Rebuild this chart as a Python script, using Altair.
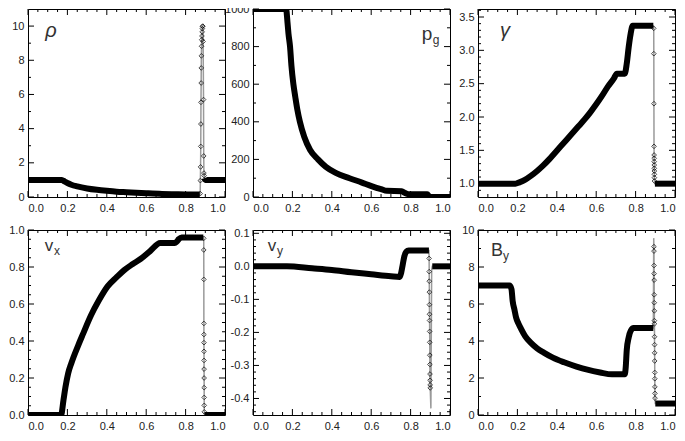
import altair as alt
import pandas as pd

# ---------------- values ----------------
XMAJ = [0.0, 0.2, 0.4, 0.6, 0.8, 1.0]
XMIN = [0.05, 0.1, 0.15, 0.25, 0.3, 0.35, 0.45, 0.5, 0.55, 0.65, 0.7, 0.75, 0.85, 0.9, 0.95]

# rho
RHO_LX = [0.0, 0.17, 0.18, 0.19, 0.2, 0.22, 0.25, 0.3, 0.35, 0.4, 0.45, 0.5, 0.6, 0.68, 0.75, 0.8, 0.872]
RHO_LY = [1.0, 1.0, 0.95, 0.88, 0.82, 0.72, 0.62, 0.5, 0.42, 0.36, 0.31, 0.28, 0.22, 0.18, 0.16, 0.15, 0.15]
RHO_SX = [0.874, 0.875, 0.876, 0.877, 0.8775, 0.878, 0.879, 0.8795, 0.88, 0.881, 0.882, 0.883, 0.884, 0.885, 0.886, 0.887, 0.889, 0.891, 0.892, 0.893, 0.894]
RHO_SY = [0.2, 0.96, 1.76, 2.96, 4.27, 5.54, 6.67, 7.55, 8.26, 8.82, 9.2, 9.42, 9.66, 9.85, 9.98, 10.0, 9.1, 5.7, 2.4, 1.4, 1.25]
RHO_RX = [0.896, 0.9, 1.0]
RHO_RY = [1.1, 1.0, 1.0]

# gas pressure
PG_LX = [0.0, 0.168, 0.175, 0.18, 0.188, 0.195, 0.205, 0.215, 0.225, 0.238, 0.26, 0.29, 0.33, 0.37, 0.42, 0.49, 0.55, 0.605, 0.65, 0.68, 0.755, 0.77, 0.79, 0.885, 0.89, 0.897, 1.0]
PG_LY = [1000, 1000, 930, 870, 800, 700, 600, 530, 465, 400, 320, 250, 200, 160, 128, 100, 78, 57, 42, 33, 31, 22, 15, 15, 8, 0.5, 0.1]

# Lorentz factor
GA_LX = [0.0, 0.19, 0.21, 0.24, 0.27, 0.3, 0.33, 0.36, 0.39, 0.42, 0.45, 0.48, 0.51, 0.54, 0.57, 0.6, 0.63, 0.66, 0.69, 0.705, 0.745, 0.755, 0.765, 0.775, 0.785, 0.89]
GA_LY = [1.0, 1.0, 1.02, 1.06, 1.12, 1.19, 1.27, 1.36, 1.46, 1.56, 1.66, 1.76, 1.86, 1.96, 2.07, 2.19, 2.32, 2.46, 2.58, 2.65, 2.65, 2.8, 3.05, 3.25, 3.37, 3.37]
GA_SX = [0.892, 0.8925, 0.893, 0.8935, 0.894, 0.8942, 0.8944, 0.8946, 0.8948, 0.895, 0.8952, 0.8954, 0.8956]
GA_SY = [3.33, 2.95, 2.2, 1.56, 1.43, 1.38, 1.33, 1.28, 1.23, 1.19, 1.14, 1.09, 1.04]
GA_RX = [0.898, 1.0]
GA_RY = [1.0, 1.0]

# v_x
VX_LX = [0.0, 0.168, 0.18, 0.19, 0.204, 0.22, 0.254, 0.28, 0.32, 0.36, 0.404, 0.45, 0.487, 0.53, 0.571, 0.62, 0.671, 0.745, 0.755, 0.765, 0.78, 0.89]
VX_LY = [0.0, 0.0, 0.08, 0.15, 0.226, 0.28, 0.374, 0.44, 0.539, 0.62, 0.695, 0.745, 0.782, 0.815, 0.843, 0.886, 0.93, 0.93, 0.937, 0.95, 0.96, 0.96]
VX_SX = [0.892, 0.8922, 0.8925, 0.8928, 0.893, 0.8932, 0.8934, 0.8936, 0.8938, 0.894, 0.8942, 0.8944, 0.8946, 0.8948]
VX_SY = [0.955, 0.892, 0.733, 0.495, 0.435, 0.391, 0.344, 0.295, 0.248, 0.2, 0.148, 0.095, 0.052, 0.017]
VX_RX = [0.897, 1.0]
VX_RY = [0.0, 0.0]

# v_y
VY_LX = [0.0, 0.172, 0.3, 0.4, 0.5, 0.6, 0.7, 0.745, 0.752, 0.76, 0.768, 0.778, 0.79, 0.893]
VY_LY = [0.0, 0.0, -0.006, -0.011, -0.018, -0.024, -0.03, -0.032, -0.02, 0.005, 0.03, 0.044, 0.048, 0.048]
VY_SX = [0.894, 0.8944, 0.8948, 0.8952, 0.8956, 0.896, 0.8964, 0.8968, 0.8972, 0.8976, 0.898, 0.8984, 0.8988, 0.8992, 0.8996]
VY_SY = [0.024, -0.016, -0.045, -0.078, -0.116, -0.145, -0.164, -0.197, -0.23, -0.269, -0.297, -0.326, -0.345, -0.359, -0.368]
VY_PX = [0.903, 0.907]
VY_PY = [-0.43, -0.01]
VY_RX = [0.91, 1.0]
VY_RY = [0.0, 0.0]

# B_y
BY_LX = [0.0, 0.16, 0.17, 0.176, 0.185, 0.193, 0.205, 0.218, 0.24, 0.27, 0.3, 0.336, 0.38, 0.437, 0.5, 0.555, 0.62, 0.68, 0.745, 0.75, 0.755, 0.765, 0.775, 0.79, 0.89]
BY_LY = [7.0, 7.0, 6.8, 6.15, 5.7, 5.28, 4.95, 4.67, 4.25, 3.88, 3.6, 3.36, 3.1, 2.85, 2.62, 2.45, 2.3, 2.2, 2.2, 2.6, 3.5, 4.2, 4.55, 4.7, 4.7]
BY_QX = [0.892]
BY_QY = [9.56]
BY_SX = [0.893, 0.8933, 0.8936, 0.8939, 0.8942, 0.8945, 0.8948, 0.8951, 0.8954, 0.8957, 0.896, 0.8963, 0.8966, 0.8969, 0.8972, 0.8975, 0.8978, 0.8981, 0.8984]
BY_SY = [9.1, 8.86, 8.08, 7.64, 7.29, 6.5, 6.07, 5.63, 5.1, 4.93, 4.23, 3.8, 3.36, 2.92, 2.3, 1.96, 1.52, 1.17, 0.91]
BY_RX = [0.9, 1.0]
BY_RY = [0.62, 0.62]

# axis ticks per panel
RHO_YMAJ = [0, 2, 4, 6, 8, 10]
RHO_YMIN = [1, 3, 5, 7, 9]
PG_YMAJ = [0, 200, 400, 600, 800, 1000]
PG_YMIN = [100, 300, 500, 700, 900]
GA_YMAJ = [1.0, 1.5, 2.0, 2.5, 3.0, 3.5]
GA_YMIN = [0.9, 1.1, 1.2, 1.3, 1.4, 1.6, 1.7, 1.8, 1.9, 2.1, 2.2, 2.3, 2.4, 2.6, 2.7, 2.8, 2.9, 3.1, 3.2, 3.3, 3.4, 3.6]
VX_YMAJ = [0.0, 0.2, 0.4, 0.6, 0.8, 1.0]
VX_YMIN = [0.05, 0.1, 0.15, 0.25, 0.3, 0.35, 0.45, 0.5, 0.55, 0.65, 0.7, 0.75, 0.85, 0.9, 0.95]
VY_YMAJ = [-0.4, -0.3, -0.2, -0.1, 0.0, 0.1]
VY_YMIN = [-0.44, -0.42, -0.38, -0.36, -0.34, -0.32, -0.28, -0.26, -0.24, -0.22, -0.18, -0.16, -0.14, -0.12,
           -0.08, -0.06, -0.04, -0.02, 0.02, 0.04, 0.06, 0.08]
BY_YMAJ = [0, 2, 4, 6, 8, 10]
BY_YMIN = [1, 3, 5, 7, 9]

# ---------------- layout / style ----------------
W = 197
H_TOP = 188
H_BOT = 185
FONT = "Liberation Sans"
MAJ_LEN = 6
MIN_LEN = 3


def path_frames(lx, ly, sx, sy, rx, ry, qx=(), qy=(), px=(), py=()):
    thick = pd.DataFrame({
        "x": list(lx) + list(rx),
        "y": list(ly) + list(ry),
        "seg": [0] * len(lx) + [1] * len(rx),
    })
    thick["i"] = range(len(thick))
    gx = list(lx) + list(qx) + list(sx) + list(px) + list(rx)
    gy = list(ly) + list(qy) + list(sy) + list(py) + list(ry)
    gray = pd.DataFrame({"x": gx, "y": gy, "i": range(len(gx))})
    pts = pd.DataFrame({"x": list(sx), "y": list(sy)})
    return thick, gray, pts


def panel(frames, ydom, ymaj, ymin, yfmt, h, texts):
    thick, gray, pts = frames
    xs = alt.Scale(domain=[0, 1], nice=False, zero=False)
    ys = alt.Scale(domain=ydom, nice=False, zero=False)
    xaxis = alt.Axis(values=XMAJ, format=".1f", ticks=False, domain=False, grid=False,
                     labelPadding=5, title=None, labelFont=FONT, labelFontSize=11,
                     labelColor="#222")
    if yfmt == "neg":
        yaxis = alt.Axis(values=ymaj, ticks=False, domain=False, grid=False, labelPadding=4,
                         title=None, labelFont=FONT, labelFontSize=11, labelColor="#222",
                         labelExpr="replace(format(datum.value, '.1f'), '\u2212', '-')")
    else:
        yaxis = alt.Axis(values=ymaj, format=yfmt, ticks=False, domain=False, grid=False,
                         labelPadding=4, title=None, labelFont=FONT, labelFontSize=11,
                         labelColor="#222")

    def X(f):
        return alt.X(f + ":Q", scale=xs, axis=xaxis)

    def Y(f):
        return alt.Y(f + ":Q", scale=ys, axis=yaxis)

    layers = [
        alt.Chart(gray).mark_line(color="#9a9a9a", strokeWidth=1.5, clip=True).encode(
            x=X("x"), y=Y("y"), order=alt.Order("i:Q")),
        alt.Chart(thick).mark_line(color="#000000", strokeWidth=6, clip=True,
                                   interpolate="monotone").encode(
            x=X("x"), y=Y("y"), detail="seg:N", order=alt.Order("i:Q")),
    ]
    if len(pts):
        layers.append(alt.Chart(pts).mark_point(shape="diamond", filled=False, color="#000000",
                                                size=22, strokeWidth=1, clip=True).encode(
            x=X("x"), y=Y("y")))
    # inward ticks on all four sides
    for vals, L in ((XMAJ, MAJ_LEN), (XMIN, MIN_LEN)):
        b = alt.Chart(pd.DataFrame({"v": vals}))
        layers.append(b.mark_rule(color="#000000", strokeWidth=1).encode(
            x=X("v"), y=alt.value(h), y2=alt.value(h - L)))
        layers.append(b.mark_rule(color="#000000", strokeWidth=1).encode(
            x=X("v"), y=alt.value(0), y2=alt.value(L)))
    for vals, L in ((ymaj, MAJ_LEN), (ymin, MIN_LEN)):
        b = alt.Chart(pd.DataFrame({"v": vals}))
        layers.append(b.mark_rule(color="#000000", strokeWidth=1).encode(
            y=Y("v"), x=alt.value(0), x2=alt.value(L)))
        layers.append(b.mark_rule(color="#000000", strokeWidth=1).encode(
            y=Y("v"), x=alt.value(W), x2=alt.value(W - L)))
    for (t, tx, ty, fs, style) in texts:
        layers.append(alt.Chart(pd.DataFrame({"t": [t]})).mark_text(
            font=FONT, fontSize=fs, fontStyle=style, color="#333333", align="center",
            baseline="alphabetic").encode(text="t:N", x=alt.value(tx), y=alt.value(ty)))
    return alt.layer(*layers).properties(width=W, height=h)


p_rho = panel(path_frames(RHO_LX, RHO_LY, RHO_SX, RHO_SY, RHO_RX, RHO_RY),
              [0, 11], RHO_YMAJ, RHO_YMIN, "d", H_TOP,
              [("ρ", 23, 28, 20, "italic")])
p_pg = panel(path_frames(PG_LX, PG_LY, [], [], [], []),
             [0, 1000], PG_YMAJ, PG_YMIN, "d", H_TOP,
             [("p", 174, 31, 19, "normal"), ("g", 183, 35, 12, "normal")])
p_ga = panel(path_frames(GA_LX, GA_LY, GA_SX, GA_SY, GA_RX, GA_RY),
             [0.8, 3.62], GA_YMAJ, GA_YMIN, ".1f", H_TOP,
             [("γ", 27, 28, 20, "italic")])
p_vx = panel(path_frames(VX_LX, VX_LY, VX_SX, VX_SY, VX_RX, VX_RY),
             [0, 1.0], VX_YMAJ, VX_YMIN, ".1f", H_BOT,
             [("v", 21, 21, 17, "normal"), ("x", 29, 25, 12, "normal")])
p_vy = panel(path_frames(VY_LX, VY_LY, VY_SX, VY_SY, VY_RX, VY_RY, px=VY_PX, py=VY_PY),
             [-0.45, 0.11], VY_YMAJ, VY_YMIN, "neg", H_BOT,
             [("v", 19, 21, 17, "normal"), ("y", 27, 25, 12, "normal")])
p_by = panel(path_frames(BY_LX, BY_LY, BY_SX, BY_SY, BY_RX, BY_RY, qx=BY_QX, qy=BY_QY),
             [0, 10], BY_YMAJ, BY_YMIN, "d", H_BOT,
             [("B", 19, 26, 18, "normal"), ("y", 28, 30, 12, "normal")])

chart = alt.concat(p_rho, p_pg, p_ga, p_vx, p_vy, p_by, columns=3,
                   spacing={"row": 33, "column": 28}, bounds="flush").properties(
    padding={"left": 0, "top": -6, "right": 0, "bottom": 0},
    background="white",
).configure_view(stroke="#000000", strokeWidth=1)

chart.save("out.html", embed_options={"renderer": "svg", "actions": False})
